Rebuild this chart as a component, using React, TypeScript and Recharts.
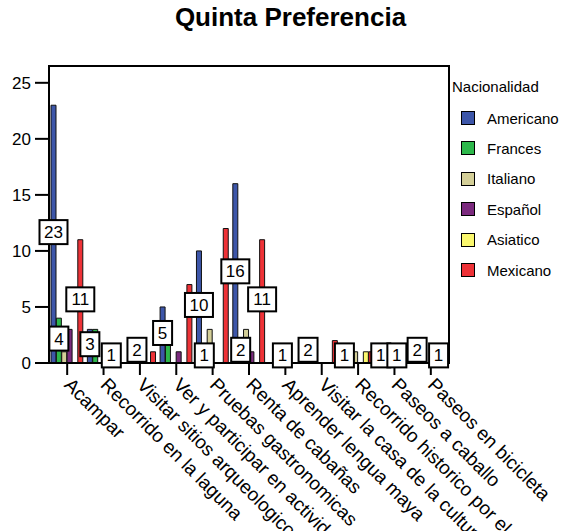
import { Bar, BarChart, LabelList, ReferenceArea, XAxis, YAxis } from "recharts";

const categories = [
  "Acampar",
  "Recorrido en la laguna",
  "Visitar sitios arqueologicos",
  "Ver y participar en actividades",
  "Pruebas gastronomicas",
  "Renta de cabañas",
  "Aprender lengua maya",
  "Visitar la casa de la cultura",
  "Recorrido historico por el pueblo",
  "Paseos a caballo",
  "Paseos en bicicleta",
];

const americano = [23, 3, 0, 5, 10, 16, 0, 2, 1, 1, 2];
const frances = [4, 3, 0, 2, 1, 2, 0, 0, 0, 0, 0];
const italiano = [1, 0, 2, 0, 3, 3, 1, 0, 1, 0, 0];
const espanol = [3, 0, 0, 1, 0, 1, 0, 0, 0, 1, 0];
const asiatico = [0, 1, 0, 0, 0, 0, 0, 0, 1, 0, 1];
const mexicano = [11, 0, 1, 7, 12, 11, 0, 2, 1, 0, 0];

const yTicks = [0, 5, 10, 15, 20, 25];

// which bars carry a value box (SPSS drops the ones that collide)
const labelledAmericano = [0, 1, 3, 4, 5, 7, 8, 9, 10];
const labelledFrances = [0, 4, 5];
const labelledItaliano = [2, 6];
const labelledEspanol = [9];
const labelledAsiatico = [1, 10];
const labelledMexicano = [0, 5];

const series = [
  { key: "Americano", color: "#3d56a9", values: americano, labelled: labelledAmericano },
  { key: "Frances", color: "#2db84b", values: frances, labelled: labelledFrances },
  { key: "Italiano", color: "#d4cf98", values: italiano, labelled: labelledItaliano },
  { key: "Español", color: "#7b2a7e", values: espanol, labelled: labelledEspanol },
  { key: "Asiatico", color: "#fbf86e", values: asiatico, labelled: labelledAsiatico },
  { key: "Mexicano", color: "#ee3237", values: mexicano, labelled: labelledMexicano },
];

const data = categories.map((name, i) => {
  const row: Record<string, string | number> = { name };
  series.forEach((s) => {
    row[s.key] = s.values[i];
    row[`${s.key}_lab`] = s.labelled.includes(i) ? s.values[i] : 0;
  });
  return row;
});

const FONT = "'Liberation Sans', Arial, Helvetica, sans-serif";

function ValueBox(props: any) {
  const { x, y, width, height, value } = props;
  if (!value) return null;
  const w = String(value).length > 1 ? 28 : 19;
  const h = 24;
  const cx = Number(x) + Number(width) / 2;
  const cy = Number(y) + Number(height) / 2 - 2;
  return (
    <g>
      <rect
        x={cx - w / 2}
        y={cy - h / 2}
        width={w}
        height={h}
        fill="#fff"
        stroke="#000"
        strokeWidth={2}
      />
      <text
        x={cx}
        y={cy + 6}
        textAnchor="middle"
        fontSize={17}
        fontFamily={FONT}
        fill="#000"
      >
        {value}
      </text>
    </g>
  );
}

function CategoryTick(props: any) {
  const { x, y, payload } = props;
  const tx = x - 4;
  const ty = y + 9;
  return (
    <text
      x={tx}
      y={ty}
      transform={`rotate(45, ${tx}, ${ty})`}
      textAnchor="start"
      fontSize={19}
      fontFamily={FONT}
      fill="#000"
    >
      {payload.value}
    </text>
  );
}

export default function App() {
  return (
    <div
      style={{
        position: "absolute",
        left: 0,
        top: 0,
        width: 581,
        height: 531,
        background: "#fff",
        fontFamily: FONT,
        overflow: "hidden",
      }}
    >
      <div
        style={{
          position: "absolute",
          top: 2,
          left: 0,
          width: 581,
          textAlign: "center",
          fontSize: 26,
          fontWeight: "bold",
        }}
      >
        Quinta Preferencia
      </div>

      <BarChart
        width={581}
        height={531}
        data={data}
        margin={{ top: 66, right: 132, bottom: 0, left: 0 }}
        barGap={0.36}
        barCategoryGap={2}
      >
        <XAxis
          dataKey="name"
          interval={0}
          height={168}
          tickSize={12}
          axisLine={{ stroke: "#000", strokeWidth: 2 }}
          tickLine={{ stroke: "#000", strokeWidth: 2 }}
          tick={<CategoryTick />}
        />
        <XAxis xAxisId="labels" dataKey="name" hide />
        <YAxis
          width={49}
          domain={[0, 26.5]}
          ticks={yTicks}
          tickSize={14}
          tickMargin={4}
          axisLine={{ stroke: "#000", strokeWidth: 2 }}
          tickLine={{ stroke: "#000", strokeWidth: 2 }}
          tick={{ fontSize: 17, fill: "#000", fontFamily: FONT }}
        />
        <ReferenceArea y1={0} y2={26.5} fill="none" stroke="#000" strokeWidth={2} />

        {series.map((s) => (
          <Bar
            key={s.key}
            dataKey={s.key}
            fill={s.color}
            stroke="#111"
            strokeWidth={1}
            isAnimationActive={false}
          />
        ))}

        {/* second pass on a hidden axis so value boxes sit above every bar */}
        {series.map((s) => (
          <Bar
            key={`lab-${s.key}`}
            xAxisId="labels"
            dataKey={`${s.key}_lab`}
            fill="none"
            isAnimationActive={false}
          >
            <LabelList dataKey={`${s.key}_lab`} content={<ValueBox />} />
          </Bar>
        ))}
      </BarChart>

      <div style={{ position: "absolute", left: 452, top: 78, fontSize: 15 }}>
        Nacionalidad
      </div>
      {series.map((s, i) => (
        <div
          key={s.key}
          style={{
            position: "absolute",
            left: 461,
            top: 108 + i * 30.4,
            display: "flex",
            alignItems: "center",
            fontSize: 15,
            height: 20,
          }}
        >
          <span
            style={{
              display: "inline-block",
              width: 12,
              height: 12,
              background: s.color,
              border: "1.5px solid #000",
              marginRight: 12,
            }}
          />
          {s.key}
        </div>
      ))}
    </div>
  );
}
